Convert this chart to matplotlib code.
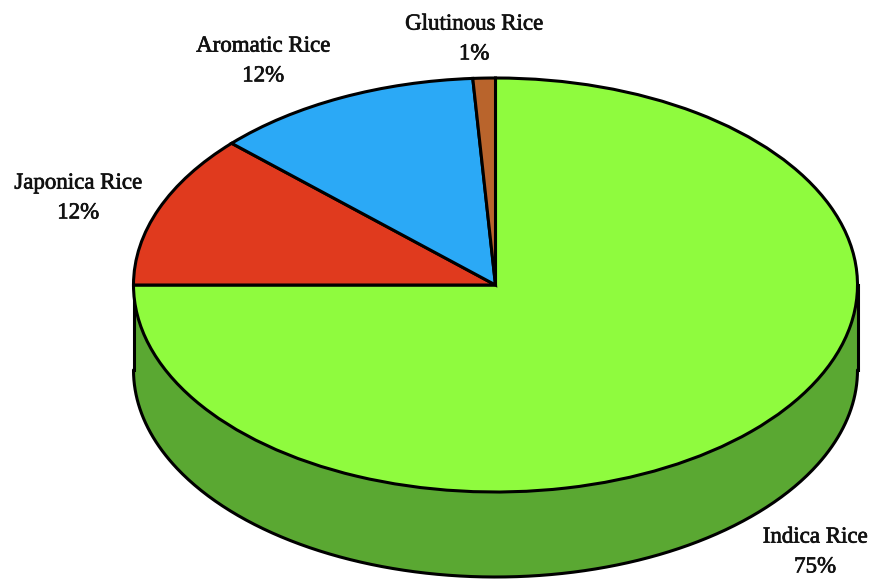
import numpy as np
import matplotlib
matplotlib.use("Agg")
import matplotlib.pyplot as plt
import matplotlib.patheffects as pe

# Share of rice production by type
categories = ["Indica Rice", "Japonica Rice", "Aromatic Rice", "Glutinous Rice"]
shares = [75, 12, 12, 1]
share_labels = ["75%", "12%", "12%", "1%"]
top_colors = ["#8FFB3E", "#E03A1E", "#2BA9F6", "#B9642C"]
side_color = "#5AA832"

WIDTH, HEIGHT = 871, 579
CX, CY, RX, RY = 495.5, 285, 362, 207
DEPTH = 85 / RY
LABEL_PIXELS = [(815, 552), (78, 198), (263, 61), (474, 39)]

plt.rcParams["font.family"] = ["Liberation Serif", "DejaVu Serif"]

fig = plt.figure(figsize=(WIDTH / 100, HEIGHT / 100), dpi=100, facecolor="white")
ax = fig.add_axes([0, 0, 1, 1])


def to_data(px, py):
    return (px - CX) / RX, (CY - py) / RY


# Pie top, clockwise from twelve o'clock; unit circle stretched by the axes limits
ax.pie(shares, colors=top_colors, startangle=90, counterclock=False, radius=1,
       wedgeprops=dict(edgecolor="black", linewidth=2.2, zorder=3))
ax.set_aspect("auto")
x0, y0 = to_data(0, HEIGHT)
x1, y1 = to_data(WIDTH, 0)
ax.set_xlim(x0, x1)
ax.set_ylim(y0, y1)

# Extruded rim: visible along the lower half of the ellipse
theta = np.linspace(np.pi, 2 * np.pi, 400)
rim_x = np.cos(theta)
rim_top = np.sin(theta)
rim_bottom = rim_top - DEPTH
ax.fill_between(rim_x, rim_bottom, rim_top, color=side_color, lw=0, zorder=1)
ax.plot(rim_x, rim_bottom, color="black", lw=2.2, zorder=2, solid_capstyle="round")
ax.plot([-1, -1], [0, -DEPTH], color="black", lw=2.2, zorder=2)
ax.plot([1, 1], [0, -DEPTH], color="black", lw=2.2, zorder=2)

# Slight stroke gives the labels their heavier weight
for name, pct, (px, py) in zip(categories, share_labels, LABEL_PIXELS):
    lx, ly = to_data(px, py)
    ax.text(lx, ly, f"{name}\n{pct}", ha="center", va="center", fontsize=16.5,
            color="#111111", linespacing=1.55, zorder=4,
            path_effects=[pe.withStroke(linewidth=0.5, foreground="#111111")])

fig.savefig("out.png", dpi=100, facecolor="white")
